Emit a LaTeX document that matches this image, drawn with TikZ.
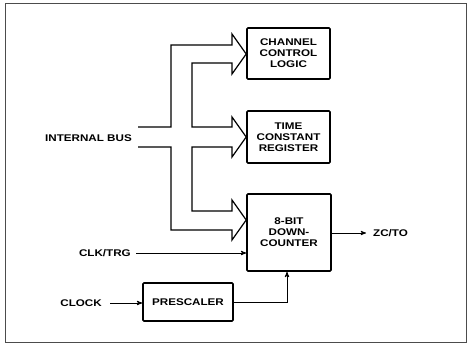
\documentclass[tikz,border=0pt]{standalone}
\usepackage{fontspec}
\newfontfamily\diagfont[FakeStretch=1.2]{Liberation Sans}
\usepackage{tikz}
\usetikzlibrary{arrows}
\usetikzlibrary{positioning}

\begin{document}
\begin{tikzpicture}[x=1pt, y=-1pt, font=\diagfont\bfseries\fontsize{9.7}{11}\selectfont,
  block/.style={rectangle, draw, line width=1.6pt, rounded corners=1pt, align=center, inner sep=0pt},
  lbl/.style={inner sep=2pt},
  arrow/.style={line width=0.9pt, ->, >=stealth'},
  bus/.style={line width=1.2pt, line join=miter}]
\useasboundingbox (0,0) rectangle (468,344);
\draw [line width=0.6pt, black!70] (5,3) rectangle (466,342);
% blocks
\node [block, minimum width=83pt, minimum height=51pt] (ccl) at (288.5,53.5) {CHANNEL\\CONTROL\\LOGIC};
\node [block, minimum width=83pt, minimum height=52pt] (tcr) at (288.5,137) {TIME\\CONSTANT\\REGISTER};
\node [block, minimum width=84pt, minimum height=77pt] (cnt) at (289,232.5) {8-BIT\\DOWN-\\COUNTER};
\node [block, minimum width=90pt, minimum height=38pt] (pre) at (188,302) {PRESCALER};
% labels
\node [lbl, anchor=east] (ibus) at (134,138) {INTERNAL BUS};
\node [lbl, anchor=east] (clktrg) at (133,253) {CLK/TRG};
\node [lbl, anchor=east] (clock) at (104,303) {CLOCK};
\node [lbl, anchor=west] (zcto) at (371,233) {ZC/TO};
% internal bus
\draw [bus] (138,127) -- (171,127) -- (171,45) -- (232,45) -- (232,34) -- (ccl.west |- 0,54) -- (232,74) -- (232,63)
  -- (192,63) -- (192,127) -- (232,127) -- (232,117) -- (tcr.west) -- (232,157) -- (232,147)
  -- (192,147) -- (192,211) -- (232,211) -- (232,200) -- (cnt.west |- 0,220) -- (232,240) -- (232,230)
  -- (171,230) -- (171,147) -- (138,147);
% signals
\draw [arrow] ([xshift=3pt]clktrg.east) -- (clktrg.east -| cnt.west);
\draw [arrow] ([xshift=6pt]clock.east) -- (clock.east -| pre.west);
\draw [arrow] (pre.east) -| ([xshift=-2pt]cnt.south);
\draw [arrow] (cnt.east |- zcto.west) -- ([xshift=-5pt]zcto.west);
\end{tikzpicture}
\end{document}
